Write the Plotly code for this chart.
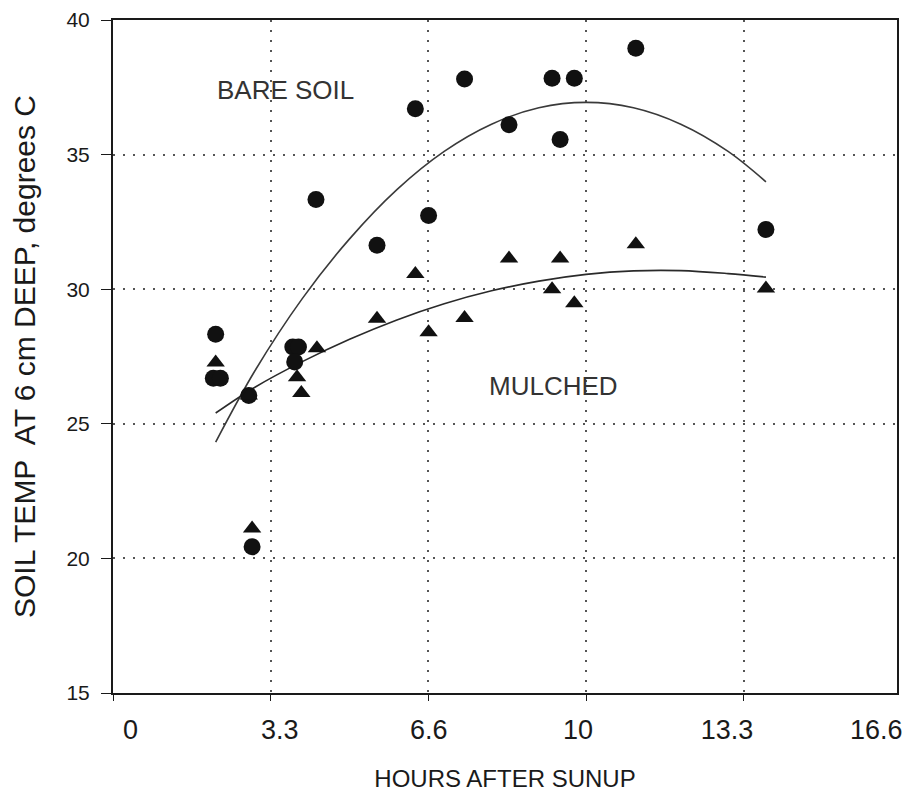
import plotly.graph_objects as go

# Bare soil (circles)
bare_x = [2.17, 2.12, 2.27, 2.87, 2.94, 3.80, 3.92, 3.84, 4.29, 5.58, 6.39, 6.67,
          7.43, 8.37, 9.28, 9.75, 9.45, 11.05, 13.80]
bare_y = [28.33, 26.69, 26.69, 26.05, 20.43, 27.85, 27.85, 27.30, 33.33, 31.63, 36.70, 32.74,
          37.81, 36.11, 37.84, 37.84, 35.56, 38.95, 32.22]

# Mulched (triangles)
mulch_x = [2.17, 2.87, 2.94, 4.31, 3.89, 3.98, 5.58, 6.39, 6.67, 7.43, 8.37, 9.45,
           11.05, 9.28, 9.75, 13.80]
mulch_y = [27.28, 26.05, 21.11, 27.81, 26.73, 26.14, 28.90, 30.56, 28.40, 28.93, 31.14, 31.14,
           31.67, 30.00, 29.48, 30.03]

# Fitted curves, points
bare_fit_x = [2.17, 3, 4, 5, 6, 7, 8, 9, 10, 11, 12, 13, 13.8]
bare_fit_y = [24.32, 26.97, 29.65, 31.87, 33.70, 35.12, 36.13, 36.74, 36.94, 36.74, 36.13, 35.12, 33.99]
mulch_fit_x = [2.17, 3, 4, 5, 6, 7, 8, 9, 10, 11, 12, 13, 13.8]
mulch_fit_y = [25.40, 26.36, 27.31, 28.14, 28.86, 29.46, 29.94, 30.30, 30.55, 30.68, 30.69, 30.58, 30.45]

x_tick_vals = [0, 3.333, 6.667, 10, 13.333, 16.667]
x_tick_text = ["0", "3.3", "6.6", "10", "13.3", "16.6"]
y_tick_vals = [15, 20, 25, 30, 35, 40]

FONT = "Liberation Sans, Arial, sans-serif"
INK = "#1a1a1a"

fig = go.Figure()
fig.add_trace(go.Scatter(x=bare_fit_x, y=bare_fit_y, mode="lines", line=dict(color="#3a3a3a", width=1.6, shape="spline"),
                         showlegend=False, hoverinfo="skip"))
fig.add_trace(go.Scatter(x=mulch_fit_x, y=mulch_fit_y, mode="lines", line=dict(color="#2a2a2a", width=1.6, shape="spline"),
                         showlegend=False, hoverinfo="skip"))
fig.add_trace(go.Scatter(x=bare_x, y=bare_y, mode="markers", name="BARE SOIL",
                         marker=dict(symbol="circle", size=17, color="#111111"), showlegend=False))
fig.add_trace(go.Scatter(x=mulch_x, y=mulch_y, mode="markers", name="MULCHED",
                         marker=dict(symbol="triangle-up", size=16, color="#111111"), showlegend=False))
# carrier for the label axis (the labels in the original are spread a little narrower than the ticks)
fig.add_trace(go.Scatter(x=x_tick_vals, y=[None] * len(x_tick_vals), xaxis="x2", mode="markers",
                         showlegend=False, hoverinfo="skip"))

fig.add_annotation(x=3.65, y=37.4, text="BARE SOIL", showarrow=False, font=dict(family=FONT, size=26, color="#333333"))
fig.add_annotation(x=9.32, y=26.4, text="MULCHED", showarrow=False, font=dict(family=FONT, size=26, color="#333333"))

fig.update_layout(
    width=894, height=784,
    margin=dict(l=105, r=0, t=12, b=97),
    paper_bgcolor="white", plot_bgcolor="white",
    font=dict(family=FONT, color=INK),
    xaxis=dict(
        range=[0, 16.57], tickvals=x_tick_vals, showticklabels=False,
        ticks="outside", ticklen=6, tickcolor=INK, tickwidth=1.2,
        showgrid=True, gridcolor="#555555", gridwidth=1.6, griddash="2px,8px",
        showline=True, linecolor=INK, linewidth=2, mirror=True, zeroline=False,
    ),
    xaxis2=dict(
        overlaying="x", side="bottom", range=[-0.393, 17.13],
        tickvals=x_tick_vals, ticktext=x_tick_text, ticks="", ticklabelstandoff=18,
        ticklabeloverflow="allow",
        tickfont=dict(family=FONT, size=27, color=INK),
        showgrid=False, showline=False, zeroline=False,
        title=dict(text="HOURS AFTER SUNUP", font=dict(family=FONT, size=24, color=INK), standoff=30),
    ),
    yaxis=dict(
        range=[15, 40], tickvals=y_tick_vals,
        ticks="outside", ticklen=10, tickcolor=INK, tickwidth=1.2, ticklabelstandoff=7,
        tickfont=dict(family=FONT, size=21, color=INK),
        showgrid=True, gridcolor="#555555", gridwidth=1.6, griddash="2px,8px",
        showline=True, linecolor=INK, linewidth=2, mirror=True, zeroline=False,
        title=dict(text="SOIL TEMP  AT 6 cm DEEP, degrees C", font=dict(family=FONT, size=30, color=INK), standoff=25),
    ),
)

fig.write_html("out.html")
